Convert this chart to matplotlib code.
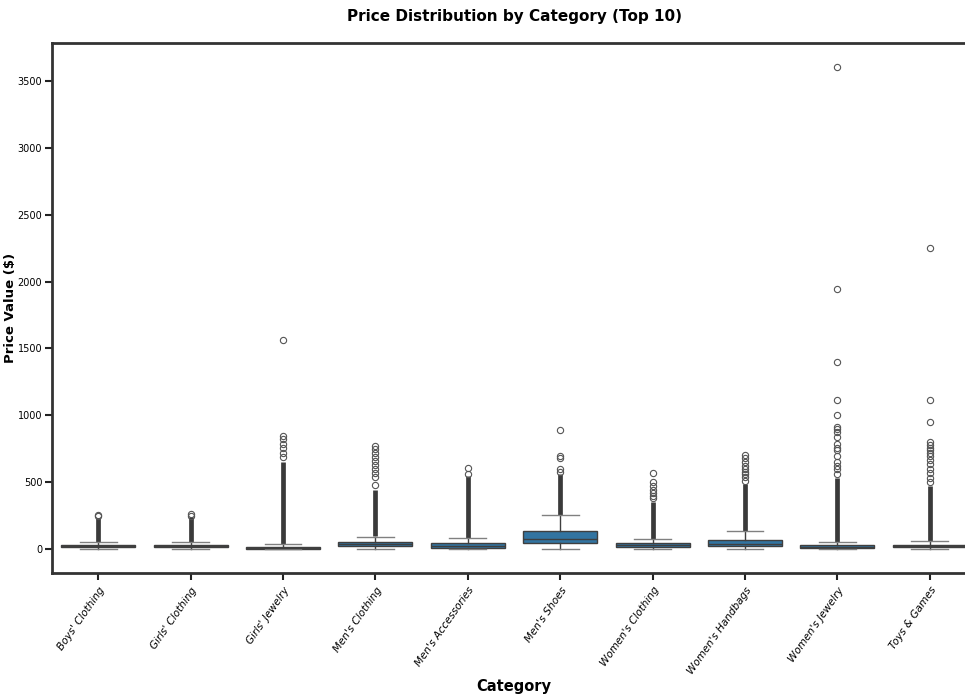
import matplotlib
matplotlib.use("Agg")
import matplotlib.pyplot as plt

plt.rcParams['font.family'] = ['DejaVu Sans']

categories = ["Boys' Clothing", "Girls' Clothing", "Girls' Jewelry", "Men's Clothing",
              "Men's Accessories", "Men's Shoes", "Women's Clothing", "Women's Handbags",
              "Women's Jewelry", "Toys & Games"]
q1 = [15, 15, 5, 25, 12, 47, 20, 22, 12, 13]
median = [22, 22, 12, 38, 25, 80, 30, 40, 20, 22]
q3 = [30, 30, 20, 54, 45, 134, 45, 72, 30, 32]
whisker_lo = [2, 2, 1, 2, 2, 5, 2, 3, 1, 1]
whisker_hi = [52, 52, 40, 95, 82, 254, 75, 134, 52, 60]
# outliers so packed they read as a solid column
dense_lo = [55, 55, 42, 97, 85, 258, 78, 137, 55, 62]
dense_hi = [232, 240, 650, 440, 550, 565, 355, 490, 530, 470]
# outliers that show as separate circles
sparse = [
    [245, 259],
    [250, 266],
    [690, 720, 760, 790, 820, 845, 1560],
    [480, 540, 570, 600, 630, 660, 690, 720, 750, 775],
    [565, 607],
    [580, 600, 680, 700, 890],
    [380, 400, 420, 445, 470, 500, 570],
    [510, 540, 560, 580, 600, 620, 650, 680, 705],
    [560, 600, 620, 650, 700, 740, 760, 790, 840, 875, 900, 912, 1000, 1117, 1400, 1945, 3600],
    [500, 530, 570, 600, 640, 665, 700, 720, 740, 760, 780, 800, 950, 1117, 2250],
]

box_color = '#3274a1'
line_color = '#3f3f3f'

fig = plt.figure(figsize=(9.65, 7.0), dpi=100, facecolor='white')
ax = fig.add_axes([0.0539, 0.181, 0.9575, 0.757])

stats = []
for i in range(len(categories)):
    stats.append(dict(med=median[i], q1=q1[i], q3=q3[i],
                      whislo=whisker_lo[i], whishi=whisker_hi[i], fliers=sparse[i]))

pos = list(range(len(categories)))
ax.vlines(pos, dense_lo, dense_hi, color='#3a3a3a', linewidth=3.4, zorder=2)
ax.bxp(stats, positions=pos, widths=0.8, patch_artist=True, showfliers=True,
       boxprops=dict(facecolor=box_color, edgecolor=line_color, linewidth=1.0),
       medianprops=dict(color=line_color, linewidth=1.0),
       whiskerprops=dict(color=line_color, linewidth=1.0),
       capprops=dict(color='#808080', linewidth=1.0),
       flierprops=dict(marker='o', markersize=4.5, markerfacecolor='none',
                       markeredgecolor='#555555', markeredgewidth=0.8))

ax.set_xlim(-0.5, 9.5)
ax.set_ylim(-180, 3780)
ax.set_yticks([0, 500, 1000, 1500, 2000, 2500, 3000, 3500])
ax.set_xticks(pos)
ax.set_xticklabels(categories, rotation=55, ha='right', rotation_mode='anchor',
                   fontsize=7.5, style='italic')
ax.tick_params(axis='y', labelsize=7, width=1.5, length=5, pad=2, color='#222222')
ax.tick_params(axis='x', width=1.5, length=5, color='#222222')
for s in ax.spines.values():
    s.set_linewidth(2)
    s.set_color('#333333')

ax.set_title('Price Distribution by Category (Top 10)', fontsize=11, fontweight='bold', pad=16)
ax.set_xlabel('Category', fontsize=10.5, fontweight='bold')
ax.xaxis.set_label_coords(0.5, -0.2)
ax.set_ylabel('Price Value ($)', fontsize=9.5, fontweight='bold')
ax.yaxis.set_label_coords(-0.038, 0.5)

plt.savefig('out.png', dpi=100)
